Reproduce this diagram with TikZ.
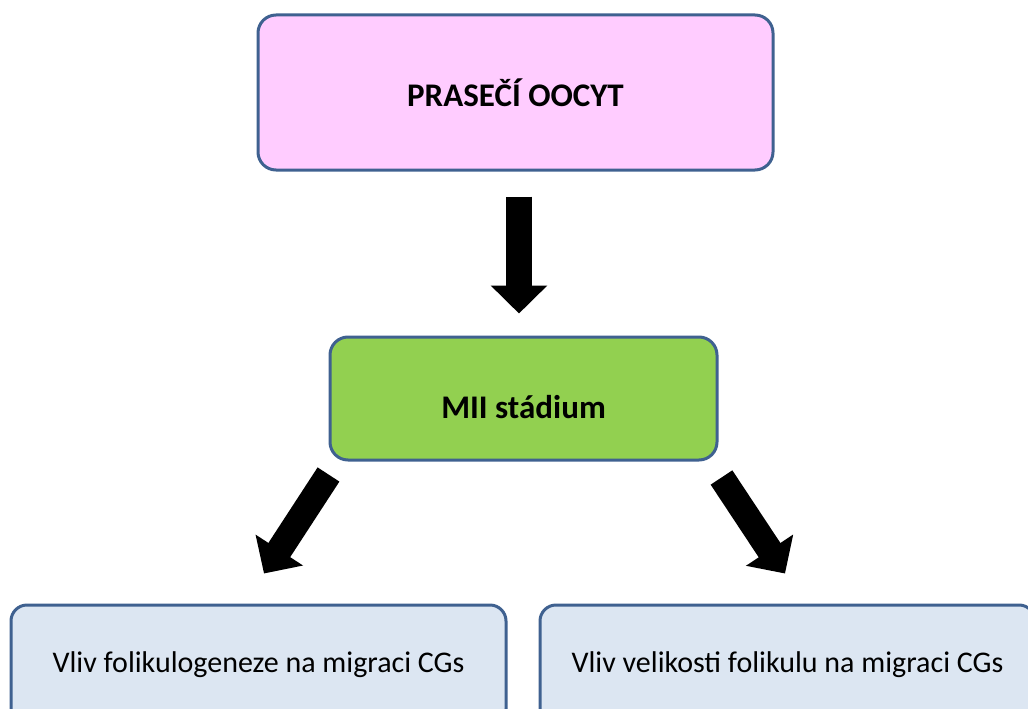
\documentclass[tikz,border=0pt]{standalone}
\usepackage{fontspec}
\setmainfont{Carlito}
\usetikzlibrary{arrows.meta,calc}
\definecolor{bordc}{HTML}{3F6190}
\definecolor{pinkf}{HTML}{FFCCFF}
\definecolor{greenf}{HTML}{92D050}
\definecolor{bluef}{HTML}{DCE6F2}
\tikzset{
  box/.style={draw=bordc, line width=3pt, rounded corners=18pt, inner sep=0pt, align=center},
  bigtext/.style={font=\fontsize{33}{38}\selectfont\bfseries},
  smalltext/.style={font=\fontsize{30}{34}\selectfont},
  fat/.style={line width=26pt, -{Triangle[length=28pt,width=55pt]}},
}
\begin{document}
\begin{tikzpicture}[x=1pt,y=-1pt]
\useasboundingbox (0,0) rectangle (1028,709);
\node[box, fill=pinkf, minimum width=515pt, minimum height=155pt, bigtext] (top) at (515.5,92.5) {PRASEČÍ OOCYT};
\node[box, fill=greenf, minimum width=387pt, minimum height=123pt, bigtext, text height=40pt, text depth=0pt] (mii) at (523.5,398.5) {MII stádium};
\node[box, fill=bluef, minimum width=495pt, minimum height=120pt, rounded corners=16pt, smalltext] (left) at (258.5,665) {Vliv folikulogeneze na migraci CGs};
\node[box, fill=bluef, minimum width=495pt, minimum height=120pt, rounded corners=16pt, smalltext] (right) at (787.5,665) {Vliv velikosti folikulu na migraci CGs};
\draw[fat] ($(top.south)+(3.5,25)$) -- ($(mii.north)+(-4.5,-22)$);
\draw[fat] ($(mii.south west)+(0,13)$) -- ($(left.north)+(5.5,-30)$);
\draw[fat] ($(mii.south east)+(3,16)$) -- ($(right.north)+(-2.5,-30)$);
\end{tikzpicture}
\end{document}
